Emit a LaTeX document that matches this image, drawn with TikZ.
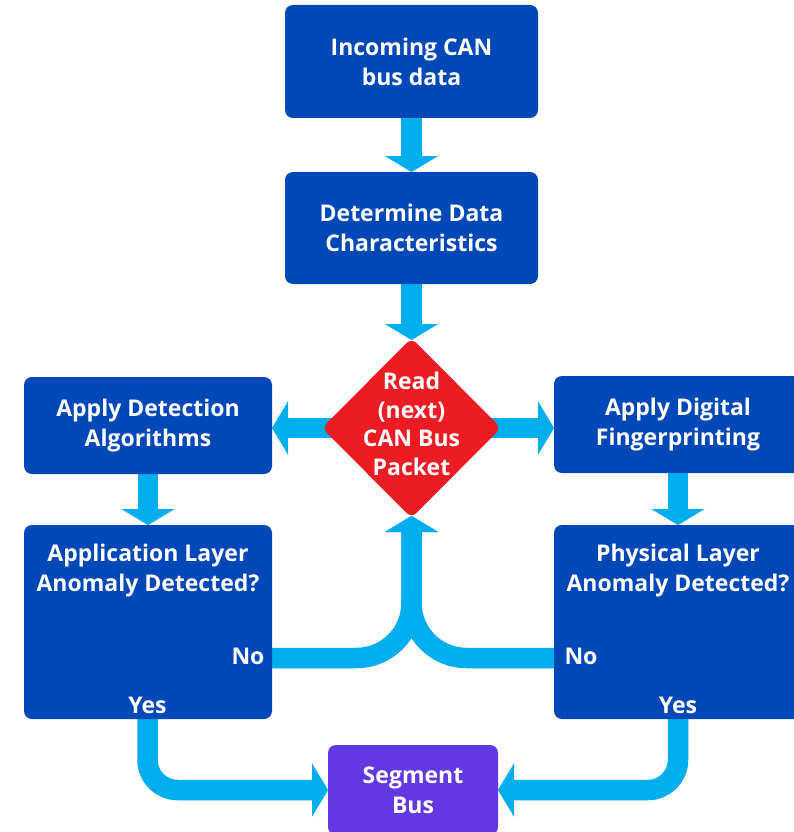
\documentclass[tikz,border=0pt]{standalone}
\usepackage{fontspec}
\setmainfont{Open Sans}
\usetikzlibrary{arrows.meta,shapes.geometric,calc,backgrounds}
\definecolor{boxblue}{RGB}{0,72,184}
\definecolor{flowcyan}{RGB}{0,174,239}
\definecolor{alertred}{RGB}{237,28,36}
\definecolor{segpurple}{RGB}{98,56,226}
\begin{document}
\begin{tikzpicture}[x=1pt,y=-1pt,
  every node/.style={inner sep=0pt,outer sep=0pt},
  txt/.style={text=white,align=center,font=\bfseries\fontsize{23}{30}\selectfont},
  procbox/.style={txt,fill=boxblue,rounded corners=8pt,minimum width=#1},
  procbox/.default=253pt,
  flow/.style={draw=flowcyan,line width=20.5pt,
    -{Triangle[width=53pt,length=16pt,line width=0.1pt]}}]
\useasboundingbox (0,0) rectangle (794,832);
% boxes
\node[procbox,minimum height=113pt] (b1) at (411.5,61.5) {Incoming CAN\\bus data};
\node[procbox,minimum height=112pt] (b2) at (411.5,228) {Determine Data\\Characteristics};
\node[diamond,fill=alertred,rounded corners=7pt,minimum width=179pt,minimum height=180pt] (dia) at (411.5,428) {};
\node[txt,font=\bfseries\fontsize{23}{28.5}\selectfont] (diaT) at (411.5,424) {Read\\(next)\\CAN Bus\\Packet};
\node[procbox=248pt,minimum height=97pt] (b3) at (148,425.5) {Apply Detection\\Algorithms};
\node[procbox=248pt,minimum height=97pt] (b5) at (678,424.5) {Apply Digital\\Fingerprinting};
\node[procbox=248pt,minimum height=194pt] (b4) at (148,622) {};
\node[procbox=248pt,minimum height=194pt] (b6) at (678,622) {};
\node[txt] (b4T) at (148,571) {Application Layer\\Anomaly Detected?};
\node[txt] (b6T) at (678,571) {Physical Layer\\Anomaly Detected?};
\node[txt] (noL) at (248,656.5) {No};
\node[txt] (noR) at (581,656.5) {No};
\node[txt] (yesL) at (147.5,705) {Yes};
\node[txt] (yesR) at (678,705) {Yes};
\node[procbox=170pt,fill=segpurple,minimum height=90pt] (seg) at (413,790) {Segment\\Bus};
% connectors
\begin{scope}[on background layer]
\draw[flow] (b1.south) -- (b2.north);
\draw[flow] (b2.south) -- ($(dia.north)+(0,2)$);
\draw[flow] (dia.center) -- (dia.center -| b3.east);
\draw[flow] (dia.center) -- (dia.center -| b5.west);
\draw[flow] (b3.south) -- (b4.north);
\draw[flow] (b5.south) -- (b6.north);
\draw[flow,rounded corners=55pt] ($(noL.center -| b4.east)+(0,1.5)$) -- ($(noL.center -| dia.south)+(0,1.5)$) -- ($(dia.south)+(0,-2)$);
\draw[flow,rounded corners=55pt] ($(noR.center -| b6.west)+(0,1.5)$) -- ($(noR.center -| dia.south)+(0,1.5)$) -- ($(dia.south)+(0,-2)$);
\draw[flow,rounded corners=30pt] (yesL.center |- b4.south) -- (yesL.center |- seg.west) -- (seg.west);
\draw[flow,rounded corners=30pt] (yesR.center |- b6.south) -- (yesR.center |- seg.east) -- (seg.east);
\end{scope}
\end{tikzpicture}
\end{document}
